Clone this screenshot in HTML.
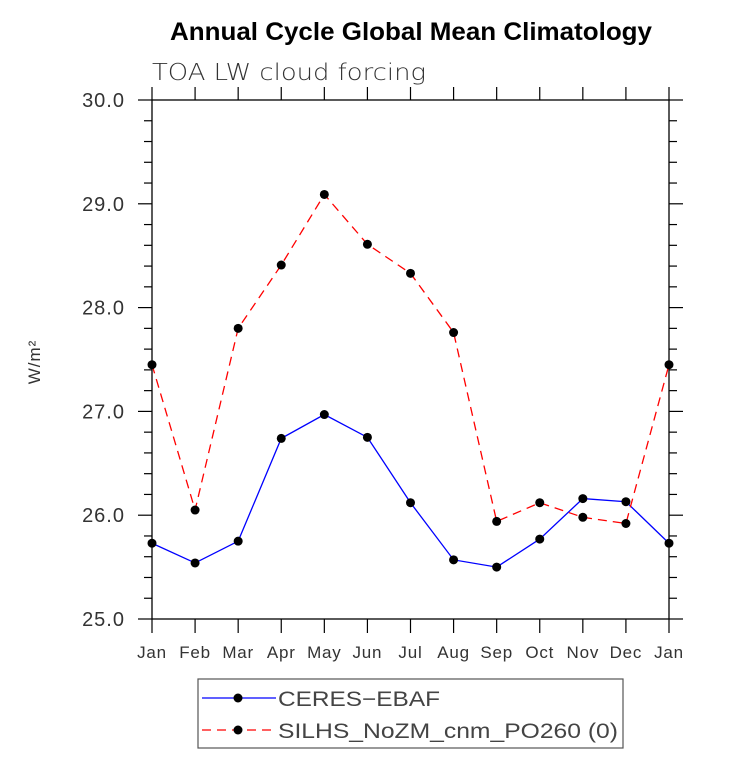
<!DOCTYPE html>
<html><head><meta charset="utf-8"><style>
body{margin:0;background:#fff;}
svg text{font-family:"Liberation Sans","DejaVu Sans",sans-serif;}
</style></head><body>
<svg id="chart" width="733" height="754" xmlns="http://www.w3.org/2000/svg">
<text x="411" y="40" text-anchor="middle" font-size="25" font-weight="bold" fill="#000" textLength="482" lengthAdjust="spacingAndGlyphs">Annual Cycle Global Mean Climatology</text>
<text x="152" y="80" font-size="23" fill="#333" textLength="274" lengthAdjust="spacingAndGlyphs" style="font-family:'DejaVu Sans',sans-serif;font-weight:200">TOA LW cloud forcing</text>
<text transform="translate(40,362) rotate(-90)" text-anchor="middle" font-size="17" fill="#333" letter-spacing="1">W/m²</text>
<g id="axes"></g>
<g id="series"></g>
<g>
<rect x="198" y="679" width="425" height="69" fill="none" stroke="#555" stroke-width="1.2"/>
<line x1="202" y1="698" x2="276" y2="698" stroke="#0000ff" stroke-width="1.3"/>
<circle cx="238" cy="698" r="4.5" fill="#000"/>
<text x="278" y="706" font-size="21" fill="#444" textLength="162" lengthAdjust="spacingAndGlyphs">CERES−EBAF</text>
<line x1="202" y1="730" x2="276" y2="730" stroke="#ff0000" stroke-width="1.3" stroke-dasharray="9,6"/>
<circle cx="238" cy="730" r="4.5" fill="#000"/>
<text x="278" y="738" font-size="21" fill="#444" textLength="340" lengthAdjust="spacingAndGlyphs">SILHS_NoZM_cnm_PO260 (0)</text>
</g>
</svg>
<script>
const months=["Jan","Feb","Mar","Apr","May","Jun","Jul","Aug","Sep","Oct","Nov","Dec","Jan"];
const ceres=[25.73,25.54,25.75,26.74,26.97,26.75,26.12,25.57,25.50,25.77,26.16,26.13,25.73];
const silhs=[27.45,26.05,27.80,28.41,29.09,28.61,28.33,27.76,25.94,26.12,25.98,25.92,27.45];
const yTicks=[25,26,27,28,29,30];
const NS="http://www.w3.org/2000/svg";
const L=152,R=669,T=100,B=619,ymin=25,ymax=30;
const xs=i=>L+(R-L)*i/(months.length-1);
const ys=v=>B-(v-ymin)/(ymax-ymin)*(B-T);
function mk(t,a,p){const e=document.createElementNS(NS,t);for(const k in a)e.setAttribute(k,a[k]);p.appendChild(e);return e;}
const ax=document.getElementById('axes');
mk('rect',{x:L,y:T,width:R-L,height:B-T,fill:'none',stroke:'#000','stroke-width':1.3},ax);
for(let v=ymin;v<=ymax+1e-9;v+=0.2){
 const y=ys(v);const major=Math.abs(v-Math.round(v))<1e-6;const len=major?14:8;
 mk('line',{x1:L-len,y1:y,x2:L,y2:y,stroke:'#000','stroke-width':1.2},ax);
 mk('line',{x1:R,y1:y,x2:R+len,y2:y,stroke:'#000','stroke-width':1.2},ax);
}
yTicks.forEach(v=>{
 const t=mk('text',{x:125,y:ys(v)+7,'text-anchor':'end','font-size':20,fill:'#333','letter-spacing':1},ax);
 
 
 t.textContent=v.toFixed(1);
});
months.forEach((m,i)=>{
 const x=xs(i);
 mk('line',{x1:x,y1:B,x2:x,y2:B+14,stroke:'#000','stroke-width':1.2},ax);
 mk('line',{x1:x,y1:T,x2:x,y2:T-13,stroke:'#000','stroke-width':1.2},ax);
 const t=mk('text',{x:x,y:658,'text-anchor':'middle','font-size':17,fill:'#333','letter-spacing':0.8},ax);
 
 
 t.textContent=m;
});
const sg=document.getElementById('series');
function draw(vals,color,dash,name){
 const pts=vals.map((v,i)=>xs(i)+','+ys(v)).join(' ');
 const pl=mk('polyline',{points:pts,fill:'none',stroke:color,'stroke-width':1.3,'stroke-dasharray':dash},sg);
 
 
 vals.forEach((v,i)=>{
  const c=mk('circle',{cx:xs(i),cy:ys(v),r:4.5,fill:'#000'},sg);
  
  
 });
}
draw(ceres,'#0000ff','none','ceres');
draw(silhs,'#ff0000','9,6','silhs');
</script>
</body></html>
